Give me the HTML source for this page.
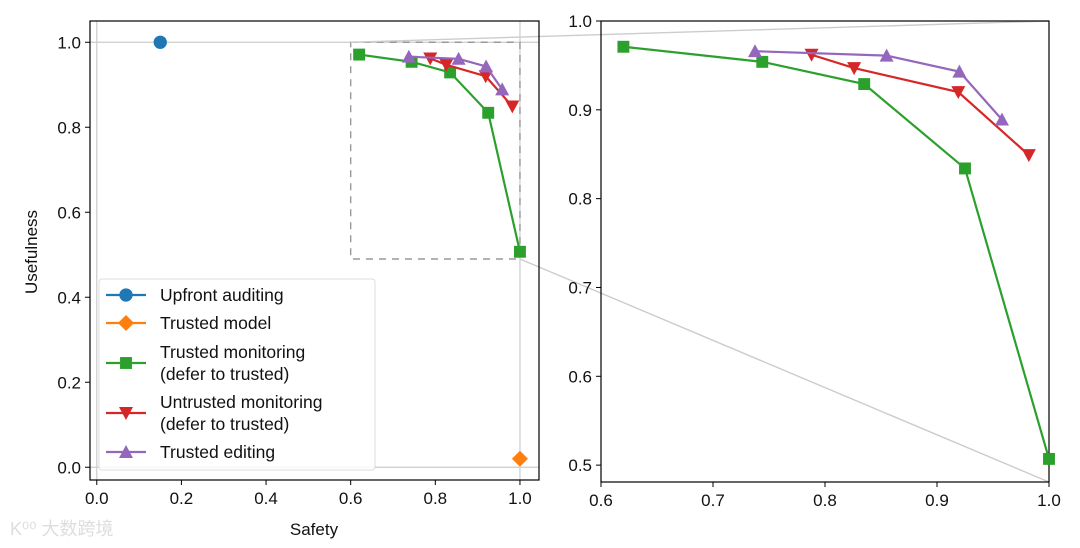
<!DOCTYPE html>
<html><head><meta charset="utf-8"><style>
body{margin:0;background:#fff;}
svg{display:block;font-family:"Liberation Sans","DejaVu Sans",sans-serif;}
</style></head><body>
<svg id="c" width="1080" height="548" viewBox="0 0 1080 548"></svg>
<script>
const seriesNames=["Upfront auditing","Trusted model","Trusted monitoring (defer to trusted)","Untrusted monitoring (defer to trusted)","Trusted editing"];
const upfrontX=[0.15], upfrontY=[1.0];
const trustedModelX=[1.0], trustedModelY=[0.02];
const tmX=[0.62,0.744,0.835,0.925,1.0], tmY=[0.971,0.954,0.929,0.834,0.507];
const umX=[0.788,0.826,0.919,0.982], umY=[0.962,0.947,0.920,0.849];
const teX=[0.7375,0.855,0.92,0.958], teY=[0.966,0.961,0.943,0.889];
const leftXTicks=[0,0.2,0.4,0.6,0.8,1.0], leftYTicks=[0,0.2,0.4,0.6,0.8,1.0];
const rightXTicks=[0.6,0.7,0.8,0.9,1.0], rightYTicks=[0.5,0.6,0.7,0.8,0.9,1.0];
const insetYMin=0.49;

const NS="http://www.w3.org/2000/svg", svg=document.getElementById('c');
function el(t,a,p){const e=document.createElementNS(NS,t);for(const k in a)e.setAttribute(k,a[k]);(p||svg).appendChild(e);return e;}
const L={x0:90,x1:539,y0:21,y1:480,xmin:-0.016,xmax:1.045,ymin:-0.03,ymax:1.05};
const R={x0:601,x1:1049,y0:21,y1:482,xmin:0.6,xmax:1.0,ymin:0.481,ymax:1.0};
function sx(A,v){return A.x0+(v-A.xmin)/(A.xmax-A.xmin)*(A.x1-A.x0);}
function sy(A,v){return A.y1-(v-A.ymin)/(A.ymax-A.ymin)*(A.y1-A.y0);}
const C={blue:"#1f77b4",orange:"#ff7f0e",green:"#2ca02c",red:"#d62728",purple:"#9467bd"};
function marker(g,type,x,y,col,s){
 let m;
 if(type==='o')m=el('circle',{cx:x,cy:y,r:s*0.95,fill:col},g);
 else if(type==='s')m=el('rect',{x:x-s*0.85,y:y-s*0.85,width:s*1.7,height:s*1.7,fill:col},g);
 else if(type==='D')m=el('polygon',{points:`${x},${y-s*1.15} ${x+s*1.15},${y} ${x},${y+s*1.15} ${x-s*1.15},${y}`,fill:col},g);
 else if(type==='v')m=el('polygon',{points:`${x-s},${y-s*0.85} ${x+s},${y-s*0.85} ${x},${y+s}`,fill:col},g);
 else m=el('polygon',{points:`${x-s},${y+s*0.85} ${x+s},${y+s*0.85} ${x},${y-s}`,fill:col},g);
 return m;
}
function series(A,X,Y,col,type,name){
 const g=el('g',{});
 
 
 if(X.length>1)el('polyline',{points:X.map((v,i)=>sx(A,v)+','+sy(A,Y[i])).join(' '),fill:'none',stroke:col,'stroke-width':2.2},g);
 X.forEach((v,i)=>{const m=marker(g,type,sx(A,v),sy(A,Y[i]),col,7);
  
  });
}
function axes(A,xt,yt,pre){
 const g=el('g',{});
 
 
 xt.forEach(t=>{const x=sx(A,t);el('line',{x1:x,x2:x,y1:A.y1,y2:A.y1+5,stroke:'#000','stroke-width':1},g);
  const tx=el('text',{x:x,y:A.y1+24,'text-anchor':'middle','font-size':17,fill:'#111'},g);tx.textContent=t.toFixed(1);
  });
 yt.forEach(t=>{const y=sy(A,t);el('line',{x1:A.x0-5,x2:A.x0,y1:y,y2:y,stroke:'#000','stroke-width':1},g);
  const tx=el('text',{x:A.x0-9,y:y+6,'text-anchor':'end','font-size':17,fill:'#111'},g);tx.textContent=t.toFixed(1);
  });
 el('rect',{x:A.x0,y:A.y0,width:A.x1-A.x0,height:A.y1-A.y0,fill:'none',stroke:'#000','stroke-width':1.2},g);
}
[0,1].forEach(v=>{el('line',{x1:L.x0,x2:L.x1,y1:sy(L,v),y2:sy(L,v),stroke:'#ccc','stroke-width':1.2});
 el('line',{x1:sx(L,v),x2:sx(L,v),y1:L.y0,y2:L.y1,stroke:'#ccc','stroke-width':1.2});});
const ix0=sx(L,R.xmin),ix1=sx(L,R.xmax),iy0=sy(L,R.ymax),iy1=sy(L,insetYMin);
const ir=el('rect',{x:ix0,y:iy0,width:ix1-ix0,height:iy1-iy0,fill:'none',stroke:'#999','stroke-width':1.4,'stroke-dasharray':'7,6'});

el('line',{x1:ix0,y1:iy0,x2:R.x1,y2:R.y0,stroke:'#ccc','stroke-width':1.4});
el('line',{x1:ix1,y1:iy1,x2:R.x1,y2:R.y1,stroke:'#ccc','stroke-width':1.4});
axes(L,leftXTicks,leftYTicks,'left');
axes(R,rightXTicks,rightYTicks,'right');
series(L,upfrontX,upfrontY,C.blue,'o','upfront-auditing');
series(L,trustedModelX,trustedModelY,C.orange,'D','trusted-model');
series(L,tmX,tmY,C.green,'s','trusted-monitoring');
series(L,umX,umY,C.red,'v','untrusted-monitoring');
series(L,teX,teY,C.purple,'^','trusted-editing');
series(R,tmX,tmY,C.green,'s','zoom-trusted-monitoring');
series(R,umX,umY,C.red,'v','zoom-untrusted-monitoring');
series(R,teX,teY,C.purple,'^','zoom-trusted-editing');
let t=el('text',{x:314,y:535,'text-anchor':'middle','font-size':17,fill:'#111'});t.textContent='Safety';

t=el('text',{x:37,y:252,'text-anchor':'middle','font-size':17,fill:'#111',transform:'rotate(-90 37 252)'});t.textContent='Usefulness';

const lg=el('g',{});

el('rect',{x:99,y:279,width:276,height:191,rx:3,fill:'#fff','fill-opacity':0.85,stroke:'#ddd','stroke-width':1},lg);
const ent=[[C.blue,'o',295,['Upfront auditing']],[C.orange,'D',323,['Trusted model']],[C.green,'s',363,['Trusted monitoring','(defer to trusted)']],[C.red,'v',413,['Untrusted monitoring','(defer to trusted)']],[C.purple,'^',452,['Trusted editing']]];
ent.forEach(e=>{const g=el('g',{},lg);
 
 el('line',{x1:106,x2:146,y1:e[2],y2:e[2],stroke:e[0],'stroke-width':2.2},g);
 marker(g,e[1],126,e[2],e[0],7);
 const n=e[3].length;e[3].forEach((s,i)=>{const tx=el('text',{x:160,y:e[2]+6+(i-(n-1)/2)*22,'font-size':17.5,fill:'#111'},g);tx.textContent=s;});
});
t=el('text',{x:10,y:535,'font-size':18,fill:'#ddd','font-family':'"Liberation Sans","Noto Sans CJK SC",sans-serif'});t.textContent='K⁰⁰ 大数跨境';

</script>
</body></html>
